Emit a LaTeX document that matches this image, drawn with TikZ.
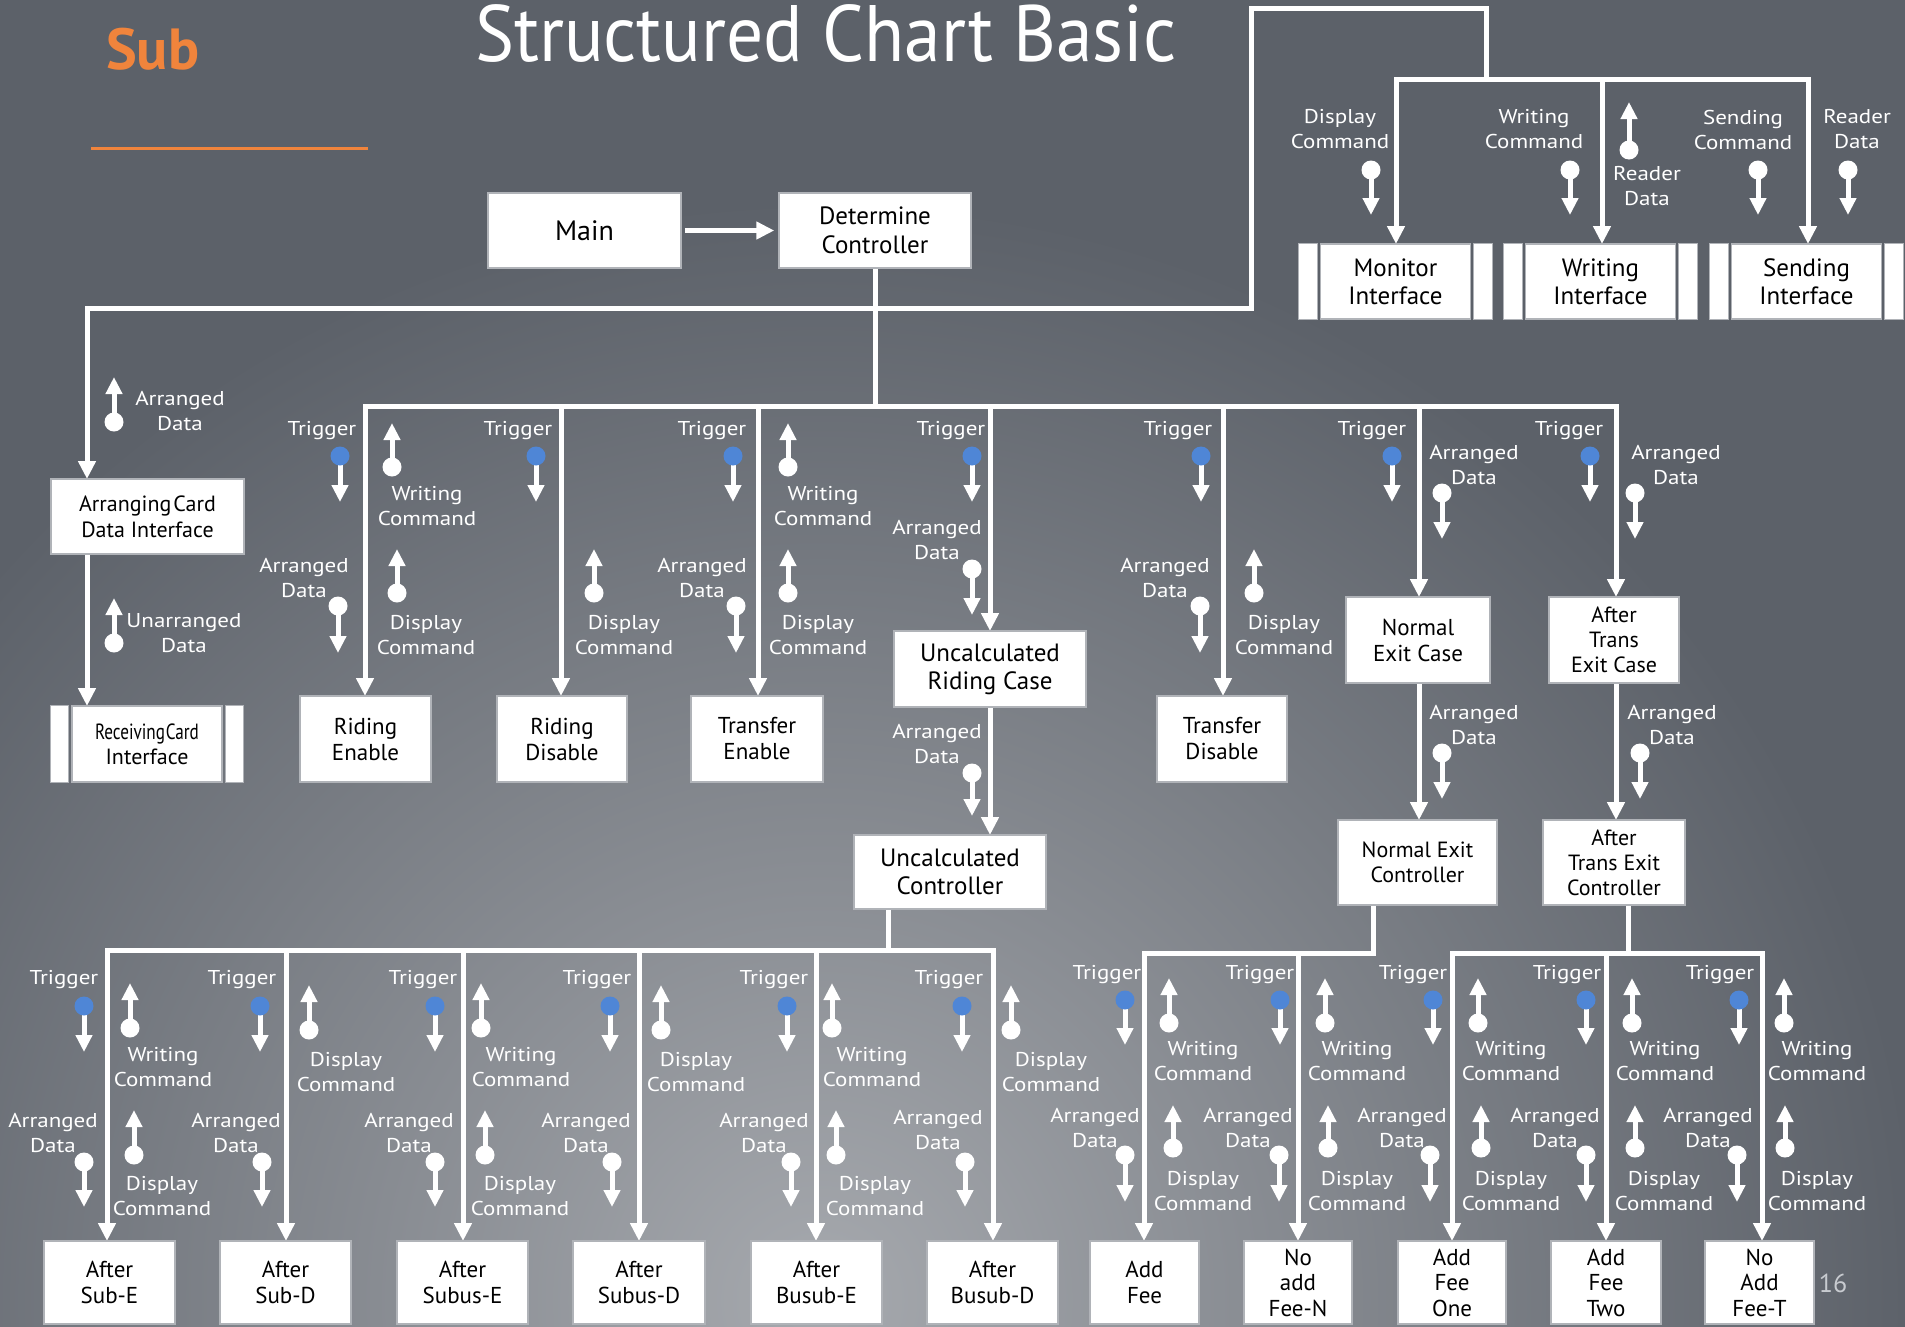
\documentclass[tikz,border=0pt]{standalone}
\usepackage{fontspec}
\usepackage{graphicx}
\setmainfont{PT Sans}
\newfontfamily\labfont[FakeStretch=1.15]{PT Sans}
\usetikzlibrary{arrows.meta,calc}
\definecolor{bgdark}{HTML}{5C6169}
\definecolor{bglight}{HTML}{A6A9AE}
\definecolor{trig}{HTML}{4F86D6}
\definecolor{subor}{HTML}{F0843C}
\definecolor{boxline}{HTML}{B0B3B8}
\definecolor{pnum}{HTML}{C8CBD0}
\tikzset{
  wire/.style={draw=white,line width=5pt,line cap=rect},
  bus/.style={draw=white,line width=5pt,-{Triangle[width=17pt,length=18pt]}},
  cplst/.style={draw=white,line width=5pt,-{Triangle[width=16pt,length=17pt]}},
  box/.style={draw=boxline,line width=1.5pt,fill=white,text=black,align=center,inner sep=0pt,font=\fontsize{23}{26}\selectfont},
  bigbox/.style={box,font=\fontsize{25}{28}\selectfont},
  smallbox/.style={box,font=\fontsize{22}{25}\selectfont},
  lab/.style={text=white,align=center,inner sep=0pt,font=\labfont\fontsize{20}{25}\selectfont},
  bar/.style={fill=white,draw=boxline,line width=1pt},
}
\newcounter{labc}
\newcommand\cpl[4]{\draw[cplst] (#1,#2) -- (#1,#3); \fill[#4] (#1,#2) circle[radius=9.5pt];}
\newcommand\clab[3]{\stepcounter{labc}\node[lab] (lab\thelabc) at (#1,#2) {#3};}
\newcommand\ibox[5]{%
  \node[box,font=\fontsize{25}{28}\selectfont,minimum width=150pt,minimum height=#4pt] (#1) at (#2,#3) {#5};
  \path[bar] ($(#1.north west)+(-21pt,0)$) rectangle ($(#1.south west)+(-2.5pt,0)$);
  \path[bar] ($(#1.north east)+(2.5pt,0)$) rectangle ($(#1.south east)+(21pt,0)$);}
% bottom-left branch: T, blue, AL, AC
\newcommand\brL[4]{\clab{#1}{980}{Trigger}\cpl{#2}{1006}{1052}{trig}%
  \clab{#3}{1133}{Arranged\\Data}\cpl{#4}{1162}{1207}{white}}
% bottom-right branch
\newcommand\brR[8]{\clab{#1}{975}{Trigger}\cpl{#2}{1000}{1045}{trig}%
  \clab{#3}{1127.5}{Arranged\\Data}\cpl{#4}{1155}{1202}{white}%
  \cpl{#5}{1023}{978}{white}\clab{#6}{1061.5}{Writing\\Command}%
  \cpl{#7}{1148}{1105}{white}\clab{#8}{1191}{Display\\Command}}
\begin{document}
\begin{tikzpicture}[x=1pt,y=-1pt]
\useasboundingbox (0,0) rectangle (1905,1326);
% background
\fill[bgdark] (0,0) rectangle (1905,1326);
\begin{scope}
\clip (0,0) rectangle (1905,1326);
\shade[inner color=bglight, outer color=bgdark] (820,1300) circle[radius=1100pt];
\end{scope}
% titles
\node[anchor=base west,inner sep=0pt,text=subor,font=\bfseries\fontsize{58}{58}\selectfont] (sub) at (106,69) {Sub};
\draw[subor,line width=3pt] (91,148) -- (368,148);
\node[anchor=base west,inner sep=0pt,text=white] (title) at (475,61) {\resizebox{701pt}{\height}{\fontsize{80}{80}\selectfont Structured Chart Basic}};
% ---------- wires ----------
\draw[wire] (875,268) -- (875,406);
\draw[wire] (87,308) -- (1251,308);
\draw[wire,line join=miter] (1251,308) -- (1251,8) -- (1486,8) -- (1486,79);
\draw[wire] (1396,79) -- (1808,79);
\draw[bus] (1396,79) -- (1396,244);
\draw[bus] (1602,79) -- (1602,244);
\draw[bus] (1808,79) -- (1808,244);
\draw[bus] (87,308) -- (87,479);
\draw[bus] (87,554) -- (87,706);
\draw[wire] (365,406) -- (1616,406);
\foreach \x in {365,561,758,1223} \draw[bus] (\x,406) -- (\x,696);
\draw[bus] (990,406) -- (990,631);
\draw[bus] (1419,406) -- (1419,597);
\draw[bus] (1616,406) -- (1616,597);
\draw[bus] (990,707) -- (990,835);
\draw[bus] (1419,683) -- (1419,820);
\draw[bus] (1616,683) -- (1616,820);
\draw[wire] (888,909) -- (888,950);
\draw[wire] (107,950) -- (993,950);
\foreach \x in {107,286,463,639,816,993} \draw[bus] (\x,950) -- (\x,1241);
\draw[wire] (1373,905) -- (1373,953);
\draw[wire] (1144,953) -- (1373,953);
\draw[wire] (1628,905) -- (1628,953);
\draw[wire] (1452,953) -- (1762,953);
\foreach \x in {1144,1298,1452,1606,1762} \draw[bus] (\x,953) -- (\x,1241);
% main arrow
\node[box,font=\fontsize{28}{30}\selectfont,minimum width=193pt,minimum height=75pt] (main) at (584.5,230.5) {Main};
\node[box,font=\fontsize{25}{29}\selectfont,minimum width=192pt,minimum height=75pt] (det) at (875,230.5) {Determine\\Controller};
\draw[bus] (main.east) ++(3pt,0) -- ($(det.west)+(-4pt,0)$);
% ---------- boxes ----------
\ibox{mon}{1395.5}{281.5}{75}{Monitor\\Interface}
\ibox{wri}{1600.5}{281.5}{75}{Writing\\Interface}
\ibox{sen}{1806.5}{281.5}{75}{Sending\\Interface}
\node[box,font=\fontsize{22}{26}\selectfont,minimum width=193pt,minimum height=75pt] (arr) at (147.5,516.5) {Arranging\kern2pt Card\\Data Interface};
\node[box,font=\fontsize{22}{25}\selectfont,minimum width=150pt,minimum height=76pt] (rec) at (147,744) {\scalebox{0.78}[1]{Receiving\kern1pt Card}\\Interface};
\path[bar] ($(rec.north west)+(-21pt,0)$) rectangle ($(rec.south west)+(-2.5pt,0)$);
\path[bar] ($(rec.north east)+(2.5pt,0)$) rectangle ($(rec.south east)+(21pt,0)$);
\node[box,minimum width=131pt,minimum height=86pt] (re) at (365.5,739) {Riding\\Enable};
\node[box,minimum width=130pt,minimum height=86pt] (rd) at (562,739) {Riding\\Disable};
\node[box,minimum width=132pt,minimum height=86pt] (te) at (757,739) {Transfer\\Enable};
\node[bigbox,minimum width=192pt,minimum height=76pt] (urc) at (990,669) {Uncalculated\\Riding Case};
\node[box,minimum width=130pt,minimum height=86pt] (td) at (1222,739) {Transfer\\Disable};
\node[box,minimum width=144pt,minimum height=86pt] (nec) at (1418,640) {Normal\\Exit Case};
\node[smallbox,minimum width=130pt,minimum height=86pt] (atc) at (1614,640) {After\\Trans\\Exit Case};
\node[bigbox,minimum width=192pt,minimum height=74pt] (uc) at (950,872) {Uncalculated\\Controller};
\node[smallbox,minimum width=159pt,minimum height=85pt] (nectl) at (1417.5,862.5) {Normal Exit\\Controller};
\node[smallbox,minimum width=142pt,minimum height=85pt] (atctl) at (1614,862.5) {After\\Trans Exit\\Controller};
\node[box,minimum width=131pt,minimum height=83pt] (b1) at (109.5,1282.5) {After\\Sub-E};
\node[box,minimum width=131pt,minimum height=83pt] (b2) at (285.5,1282.5) {After\\Sub-D};
\node[box,minimum width=131pt,minimum height=83pt] (b3) at (462.5,1282.5) {After\\Subus-E};
\node[box,minimum width=132pt,minimum height=83pt] (b4) at (639,1282.5) {After\\Subus-D};
\node[box,minimum width=131pt,minimum height=83pt] (b5) at (816.5,1282.5) {After\\Busub-E};
\node[box,minimum width=131pt,minimum height=83pt] (b6) at (992.5,1282.5) {After\\Busub-D};
\node[box,minimum width=109pt,minimum height=83pt] (b7) at (1144.5,1282.5) {Add\\Fee};
\node[box,font=\fontsize{23}{25.5}\selectfont,minimum width=108pt,minimum height=83pt] (b8) at (1298,1282.5) {No\\add\\Fee-N};
\node[box,font=\fontsize{23}{25.5}\selectfont,minimum width=108pt,minimum height=83pt] (b9) at (1452,1282.5) {Add\\Fee\\One};
\node[box,font=\fontsize{23}{25.5}\selectfont,minimum width=110pt,minimum height=83pt] (b10) at (1606,1282.5) {Add\\Fee\\Two};
\node[box,font=\fontsize{23}{25.5}\selectfont,minimum width=109pt,minimum height=83pt] (b11) at (1759.5,1282.5) {No\\Add\\Fee-T};
\node[text=pnum,inner sep=0pt,font=\fontsize{26}{26}\selectfont] (pg) at (1833,1283) {16};
% ---------- couples: top ----------
\cpl{1371}{170}{215}{white}\clab{1340}{129.5}{Display\\Command}
\cpl{1570}{170}{215}{white}\clab{1534}{129.5}{Writing\\Command}
\cpl{1629}{150}{102}{white}\clab{1647}{186}{Reader\\Data}
\cpl{1758}{170}{215}{white}\clab{1743}{129.5}{Sending\\Command}
\cpl{1848}{170}{215}{white}\clab{1857}{129.5}{Reader\\Data}
% left
\cpl{114}{422}{377}{white}\clab{180}{411}{Arranged\\Data}
\cpl{114}{643}{598}{white}\clab{184}{633}{Unarranged\\Data}
% ---------- section 2 ----------
\clab{322}{431}{Trigger}\cpl{340}{456}{502}{trig}
\cpl{392}{467}{423}{white}\clab{427}{506.5}{Writing\\Command}
\cpl{397}{593}{549}{white}\clab{426}{635.5}{Display\\Command}
\clab{304}{577.5}{Arranged\\Data}\cpl{338}{606}{653}{white}
\clab{518}{431}{Trigger}\cpl{536}{456}{502}{trig}
\cpl{594}{593}{549}{white}\clab{624}{635.5}{Display\\Command}
\clab{712}{431}{Trigger}\cpl{733}{456}{502}{trig}
\cpl{788}{467}{423}{white}\clab{823}{506.5}{Writing\\Command}
\clab{702}{577.5}{Arranged\\Data}\cpl{736}{606}{653}{white}
\cpl{788}{593}{549}{white}\clab{818}{635.5}{Display\\Command}
\clab{951}{431}{Trigger}\cpl{972}{456}{502}{trig}
\clab{937}{539.5}{Arranged\\Data}\cpl{972}{569}{615}{white}
\clab{937}{744}{Arranged\\Data}\cpl{972}{773}{816}{white}
\clab{1178}{431}{Trigger}\cpl{1201}{456}{502}{trig}
\clab{1165}{577.5}{Arranged\\Data}\cpl{1200}{606}{653}{white}
\cpl{1254}{593}{549}{white}\clab{1284}{635.5}{Display\\Command}
\clab{1372}{431}{Trigger}\cpl{1392}{456}{502}{trig}
\clab{1474}{464.5}{Arranged\\Data}\cpl{1442}{493}{539}{white}
\clab{1474}{724.5}{Arranged\\Data}\cpl{1442}{753}{799}{white}
\clab{1569}{431}{Trigger}\cpl{1590}{456}{502}{trig}
\clab{1676}{464.5}{Arranged\\Data}\cpl{1635}{493}{539}{white}
\clab{1672}{724.5}{Arranged\\Data}\cpl{1640}{753}{799}{white}
% ---------- bottom left ----------
\brL{64}{84}{53}{84}
\cpl{130}{1028}{983}{white}\clab{163}{1067.5}{Writing\\Command}
\cpl{134}{1155}{1110}{white}\clab{162}{1196.5}{Display\\Command}
\brL{242}{260}{236}{262}
\cpl{309}{1030}{985}{white}\clab{346}{1072.5}{Display\\Command}
\brL{423}{435}{409}{435}
\cpl{481}{1028}{983}{white}\clab{521}{1067.5}{Writing\\Command}
\cpl{485}{1155}{1110}{white}\clab{520}{1196.5}{Display\\Command}
\brL{597}{610}{586}{612}
\cpl{661}{1030}{985}{white}\clab{696}{1072.5}{Display\\Command}
\brL{774}{787}{764}{791}
\cpl{832}{1028}{983}{white}\clab{872}{1067.5}{Writing\\Command}
\cpl{836}{1155}{1110}{white}\clab{875}{1196.5}{Display\\Command}
\clab{949}{980}{Trigger}\cpl{962}{1006}{1052}{trig}
\clab{938}{1130}{Arranged\\Data}\cpl{965}{1162}{1207}{white}
\cpl{1011}{1030}{985}{white}\clab{1051}{1072.5}{Display\\Command}
% ---------- bottom right ----------
\brR{1107}{1125}{1095}{1125}{1169}{1203}{1173}{1203}
\brR{1260}{1280}{1248}{1279}{1325}{1357}{1328}{1357}
\brR{1413}{1433}{1402}{1430}{1478}{1511}{1481}{1511}
\brR{1567}{1586}{1555}{1586}{1632}{1665}{1635}{1664}
\brR{1720}{1739}{1708}{1737}{1784}{1817}{1785}{1817}
\end{tikzpicture}
\end{document}
